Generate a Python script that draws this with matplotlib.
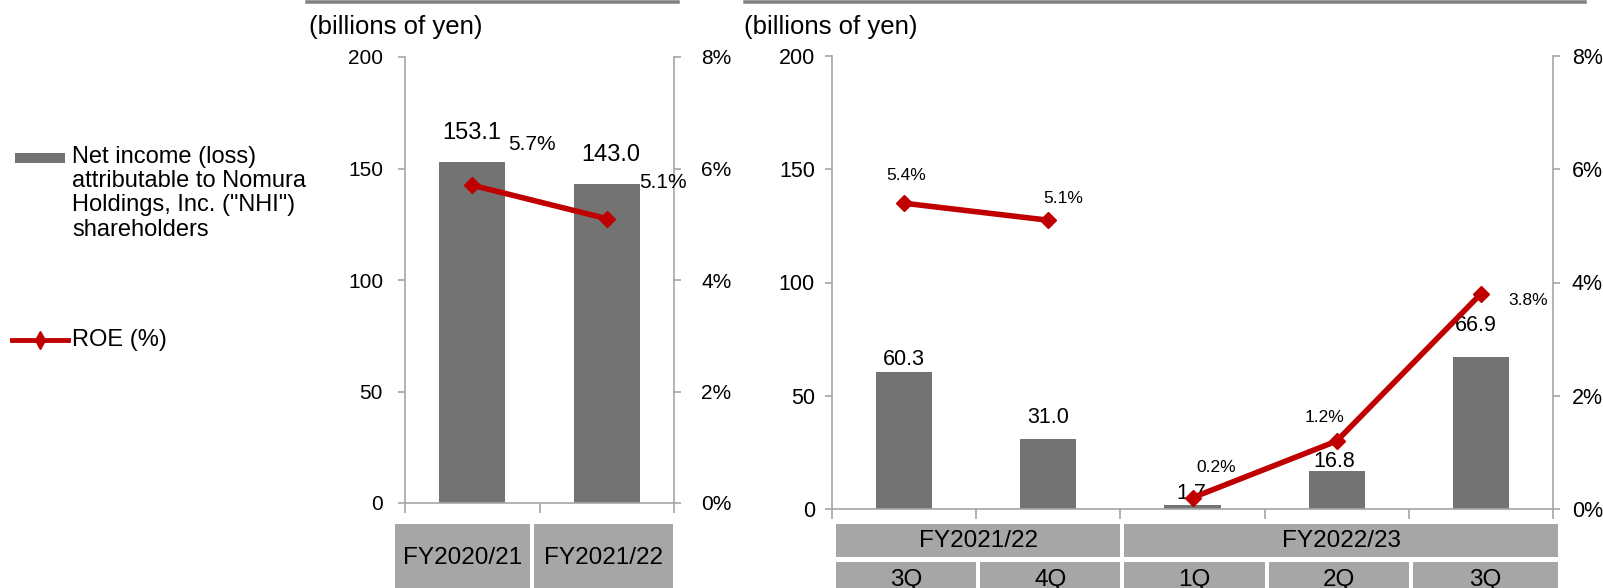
import matplotlib
matplotlib.use("agg")
import matplotlib.pyplot as plt
from matplotlib.patches import Rectangle
from matplotlib.lines import Line2D
from matplotlib.ticker import FuncFormatter
import numpy as np

plt.rcParams["font.family"] = ["Liberation Sans", "DejaVu Sans"]

# data
annual_labels = ["FY2020/21", "FY2021/22"]
annual_income = [153.1, 143.0]
annual_roe = [5.7, 5.1]

quarter_labels = ["3Q", "4Q", "1Q", "2Q", "3Q"]
quarter_years = ["FY2021/22", "FY2021/22", "FY2022/23", "FY2022/23", "FY2022/23"]
quarter_income = [60.3, 31.0, 1.7, 16.8, 66.9]
quarter_roe = [5.4, 5.1, 0.2, 1.2, 3.8]

income_ticks = [0, 50, 100, 150, 200]
roe_ticks = [0, 2, 4, 6, 8]

legend_income = 'Net income (loss)\nattributable to Nomura\nHoldings, Inc. ("NHI")\nshareholders'
legend_roe = "ROE (%)"
unit_label = "(billions of yen)"

# label offsets from the mark, in pixels (dx, dy up)
annual_income_off = [(-1, 29), (4, 29)]
annual_roe_off = [(60, 41), (56, 36)]
quarter_income_off = [(0, 13), (0, 21), (-1, 12), (-2, 9), (-5, 32)]
quarter_roe_off = [(2, 28), (15, 22), (24, 30), (-12, 24), (47, -7)]

BAR = "#737373"
RED = "#c00000"
AXIS = "#a6a6a6"
BOX = "#a6a6a6"
W, H, DPI = 1603, 588, 100

fig = plt.figure(figsize=(W / DPI, H / DPI), dpi=DPI)


def fx(px):
    return px / W


def fy(py):
    return 1 - py / H


def pt(px):
    return px * 72 / DPI


def chart(x0, y0, x1, y1, n, lpad, rpad, fs):
    ax = fig.add_axes([fx(x0), fy(y1), fx(x1 - x0), (y1 - y0) / H])
    ax.set_xlim(-0.5, n - 0.5)
    ax.set_ylim(0, 200)
    ax.set_yticks(income_ticks)
    ax.set_xticks(np.arange(n + 1) - 0.5)
    ax.set_xticklabels([])
    for s in ["top", "right"]:
        ax.spines[s].set_visible(False)
    for s in ["left", "bottom"]:
        ax.spines[s].set_color(AXIS)
        ax.spines[s].set_linewidth(1.2)
    ax.tick_params(axis="y", length=pt(7), width=1.2, color=AXIS, labelsize=fs, pad=pt(lpad))
    ax.tick_params(axis="x", length=pt(10), width=1.2, color=AXIS)

    ax2 = ax.twinx()
    ax2.set_ylim(0, 8)
    ax2.set_yticks(roe_ticks)
    ax2.yaxis.set_major_formatter(FuncFormatter(lambda v, p: f"{v:.0f}%"))
    for s in ["top", "left", "bottom"]:
        ax2.spines[s].set_visible(False)
    ax2.spines["right"].set_color(AXIS)
    ax2.spines["right"].set_linewidth(1.2)
    ax2.tick_params(axis="y", length=pt(7), width=1.2, color=AXIS, labelsize=fs, pad=pt(rpad))
    return ax, ax2


def label(ax, x, y, txt, off, fs):
    ax.annotate(txt, (x, y), xytext=(pt(off[0]), pt(off[1])), textcoords="offset points",
                ha="center", va="center", fontsize=fs, color="black", annotation_clip=False)


def box(x0, y0, x1, y1, txt, fs, ty):
    fig.add_artist(Rectangle((fx(x0), fy(y1)), fx(x1 - x0), (y1 - y0) / H,
                             facecolor=BOX, edgecolor="none", transform=fig.transFigure))
    fig.text(fx((x0 + x1) / 2), fy(ty), txt, ha="center", va="center", fontsize=fs)


# left chart: full years
axl, axl2 = chart(405, 57, 674, 503, len(annual_income), 15, 20, 15)
xl = np.arange(len(annual_income))
axl.bar(xl, annual_income, width=0.49, color=BAR, zorder=2)
axl2.plot(xl, annual_roe, color=RED, lw=4, marker="D", ms=8.5, zorder=3)
for i in xl:
    label(axl, i, annual_income[i], f"{annual_income[i]:.1f}", annual_income_off[i], 17)
    label(axl2, i, annual_roe[i], f"{annual_roe[i]:.1f}%", annual_roe_off[i], 15)

# right chart: quarters
axr, axr2 = chart(832, 56, 1553, 509, len(quarter_income), 10, 12, 15.5)
xr = np.arange(len(quarter_income))
axr.bar(xr, quarter_income, width=0.39, color=BAR, zorder=2)
years = list(dict.fromkeys(quarter_years))
for y in years:
    idx = [i for i in xr if quarter_years[i] == y]
    axr2.plot(idx, [quarter_roe[i] for i in idx], color=RED, lw=4, marker="D", ms=8.5, zorder=3)
for i in xr:
    label(axr, i, quarter_income[i], f"{quarter_income[i]:.1f}", quarter_income_off[i], 15.5)
    label(axr2, i, quarter_roe[i], f"{quarter_roe[i]:.1f}%", quarter_roe_off[i], 12.5)

# unit labels and top rules
fig.text(fx(309), fy(27), unit_label, ha="left", va="center", fontsize=18.5)
fig.text(fx(744), fy(27), unit_label, ha="left", va="center", fontsize=18.5)
fig.add_artist(Line2D([fx(307), fx(678)], [fy(1.5), fy(1.5)], color="#808080", lw=pt(3.5)))
fig.add_artist(Line2D([fx(745), fx(1585)], [fy(1.5), fy(1.5)], color="#808080", lw=pt(3.5)))

# category boxes
box(395, 524, 530, 600, annual_labels[0], 17.5, 558)
box(534, 524, 673, 600, annual_labels[1], 17.5, 558)
step = (1553 - 832) / len(quarter_income)
for y in years:
    idx = [i for i in xr if quarter_years[i] == y]
    a = 832 + idx[0] * step + 4
    b = 832 + (idx[-1] + 1) * step + (5 if idx[-1] == len(xr) - 1 else 0)
    box(a, 524, b, 557, y, 17.5, 541)
for i in xr:
    a = 832 + i * step + 4
    b = 832 + (i + 1) * step + (5 if i == len(xr) - 1 else 0)
    box(a, 562, b, 600, quarter_labels[i], 17.5, 580)

# legend
fig.add_artist(Rectangle((fx(15), fy(163)), fx(50), 10 / H, facecolor=BAR,
                         edgecolor="none", transform=fig.transFigure))
fig.text(fx(72), fy(146), legend_income, ha="left", va="top", fontsize=17, linespacing=1.13)
fig.add_artist(Line2D([fx(12), fx(68)], [fy(340), fy(340)], color=RED, lw=3.5))
fig.add_artist(Line2D([fx(40)], [fy(340)], color=RED, marker="d", ms=9, lw=0))
fig.text(fx(72), fy(340), legend_roe, ha="left", va="center", fontsize=17)

fig.savefig("out.png", dpi=DPI)
